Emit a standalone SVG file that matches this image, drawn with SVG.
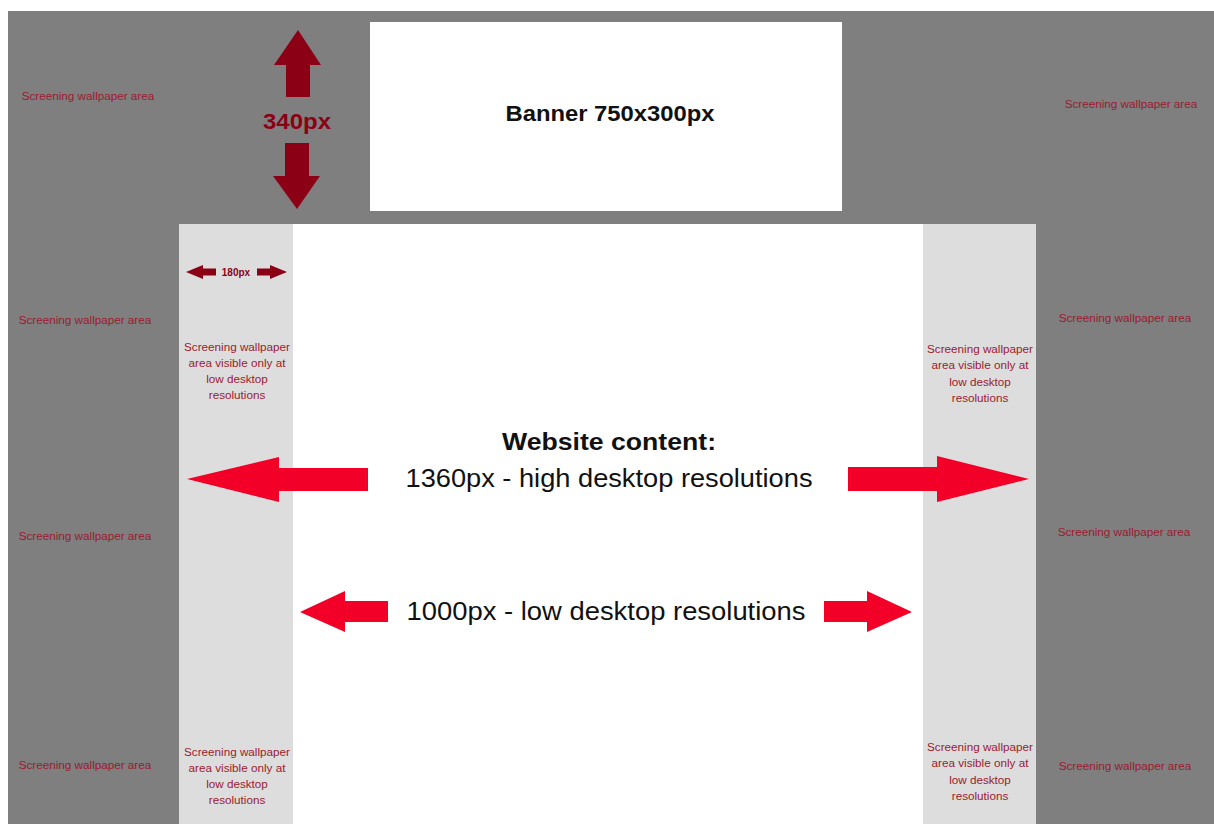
<svg xmlns="http://www.w3.org/2000/svg" width="1214" height="824" viewBox="0 0 1214 824">
  <style>
    .wall { fill: #7f7f7f; }
    .side { fill: #dddddd; }
    .white { fill: #ffffff; }
    .dark { fill: #8c0016; }
    .red { fill: #f20028; }
    .lbl { font-family: "Liberation Sans", Arial, sans-serif; font-size: 11.7px; fill: #9c1a30; text-anchor: middle; }
    .big { font-family: "Liberation Sans", Arial, sans-serif; fill: #111111; text-anchor: middle; }
  </style>

  <rect x="0" y="0" width="1214" height="824" fill="#ffffff"/>
  <rect class="wall" x="8" y="11" width="1206" height="813"/>

  <!-- banner -->
  <g id="banner">
    <rect class="white" x="370" y="22" width="472" height="189"/>
    <text class="big" x="610" y="121" font-size="22" font-weight="bold" textLength="209" lengthAdjust="spacingAndGlyphs">Banner 750x300px</text>
  </g>

  <!-- page body: side strips and content -->
  <g id="content">
    <rect class="side" x="179" y="224" width="114" height="600"/>
    <rect class="white" x="293" y="224" width="630" height="600"/>
    <rect class="side" x="923" y="224" width="113" height="600"/>
    <text class="big" x="609" y="450" font-size="24" font-weight="bold" textLength="214" lengthAdjust="spacingAndGlyphs">Website content:</text>
    <text class="big" x="609" y="487" font-size="25" textLength="407" lengthAdjust="spacingAndGlyphs">1360px - high desktop resolutions</text>
    <text class="big" x="606" y="620" font-size="25" textLength="399" lengthAdjust="spacingAndGlyphs">1000px - low desktop resolutions</text>
  </g>

  <!-- wallpaper labels -->
  <g id="wallpaper-left">
    <text class="lbl" x="88" y="100">Screening wallpaper area</text>
    <text class="lbl" x="85" y="324">Screening wallpaper area</text>
    <text class="lbl" x="85" y="540">Screening wallpaper area</text>
    <text class="lbl" x="85" y="769">Screening wallpaper area</text>
  </g>
  <g id="wallpaper-right">
    <text class="lbl" x="1131" y="108">Screening wallpaper area</text>
    <text class="lbl" x="1125" y="322">Screening wallpaper area</text>
    <text class="lbl" x="1124" y="536">Screening wallpaper area</text>
    <text class="lbl" x="1125" y="770">Screening wallpaper area</text>
  </g>

  <g id="strip-left-top">
    <text class="lbl" x="237"><tspan x="237" y="351">Screening wallpaper</tspan><tspan x="237" y="367">area visible only at</tspan><tspan x="237" y="383">low desktop</tspan><tspan x="237" y="399">resolutions</tspan></text>
  </g>
  <g id="strip-left-bottom">
    <text class="lbl" x="237"><tspan x="237" y="756">Screening wallpaper</tspan><tspan x="237" y="772">area visible only at</tspan><tspan x="237" y="788">low desktop</tspan><tspan x="237" y="804">resolutions</tspan></text>
  </g>
  <g id="strip-right-top">
    <text class="lbl" x="980"><tspan x="980" y="353">Screening wallpaper</tspan><tspan x="980" y="369">area visible only at</tspan><tspan x="980" y="386">low desktop</tspan><tspan x="980" y="402">resolutions</tspan></text>
  </g>
  <g id="strip-right-bottom">
    <text class="lbl" x="980"><tspan x="980" y="751">Screening wallpaper</tspan><tspan x="980" y="767">area visible only at</tspan><tspan x="980" y="784">low desktop</tspan><tspan x="980" y="800">resolutions</tspan></text>
  </g>

  <!-- dimension arrows -->
  <g id="connectors">
    <!-- 340px vertical -->
    <polygon class="dark" points="298,30 321,65 310,65 310,97 286,97 286,65 274,65"/>
    <polygon class="dark" points="297,209 320,176 309,176 309,143 285,143 285,176 273,176"/>
    <text x="297" y="129" font-family="Liberation Sans, Arial, sans-serif" font-size="22" font-weight="bold" fill="#8c0016" text-anchor="middle" textLength="68" lengthAdjust="spacingAndGlyphs">340px</text>

    <!-- 180px horizontal -->
    <polygon class="dark" points="186,272 203,265 203,268.5 216,268.5 216,275.5 203,275.5 203,279"/>
    <polygon class="dark" points="287,272 270,265 270,268.5 257,268.5 257,275.5 270,275.5 270,279"/>
    <text x="236" y="276" font-family="Liberation Sans, Arial, sans-serif" font-size="10" font-weight="bold" fill="#8c0016" text-anchor="middle">180px</text>

    <!-- 1360px -->
    <polygon class="red" points="187,479 279,457 279,468 368,468 368,491 279,491 279,502"/>
    <polygon class="red" points="1029,479 937,456 937,467 848,467 848,491 937,491 937,502"/>

    <!-- 1000px -->
    <polygon class="red" points="300,612 345,591 345,601 388,601 388,622 345,622 345,632"/>
    <polygon class="red" points="912,612 867,591 867,601 824,601 824,622 867,622 867,632"/>
  </g>
</svg>
